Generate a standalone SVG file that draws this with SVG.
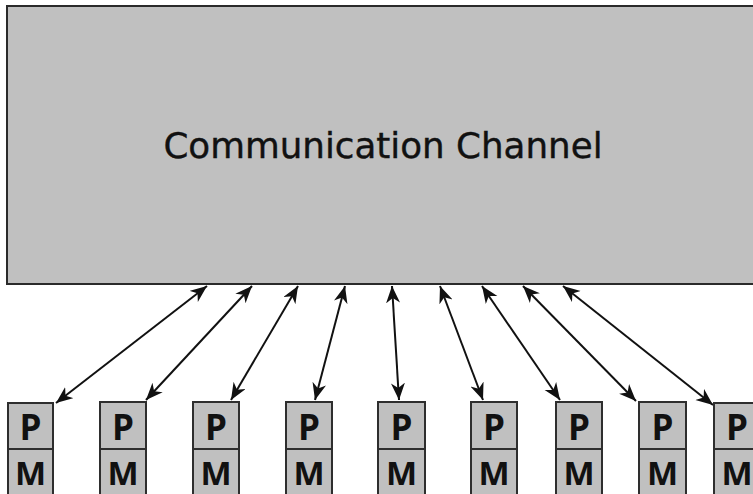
<svg xmlns="http://www.w3.org/2000/svg" width="753" height="494" viewBox="0 0 753 494">
<style>
.cell{fill:#c0c0c0;stroke:#2e2e2e;stroke-width:2}
.lbl{font-family:"Open Sans","Liberation Sans",sans-serif;font-weight:700;font-size:35px;fill:#111;text-anchor:middle}
.lm{font-size:33px}
.conn{stroke:#111;stroke-width:2;fill:none;marker-start:url(#ah);marker-end:url(#ah)}
.title{font-family:"DejaVu Sans","Liberation Sans",sans-serif;font-size:35.7px;fill:#111;stroke:#111;stroke-width:0.4;text-anchor:middle}
</style>
<defs>
<marker id="ah" markerUnits="userSpaceOnUse" markerWidth="18" markerHeight="15" refX="17" refY="7" orient="auto-start-reverse" viewBox="0 0 18 15">
<path d="M0,0 L17,7 L0,14 L5,7 z" fill="#111"/>
</marker>
</defs>
<rect width="753" height="494" fill="#fff"/>
<g id="channel">
<rect x="7" y="6" width="760" height="278" fill="#c0c0c0" stroke="#2a2a2a" stroke-width="2"/>
<text class="title" x="383" y="158">Communication Channel</text>
</g>
<g id="connectors">
<line class="conn" x1="207" y1="286" x2="56" y2="403"/>
<line class="conn" x1="252" y1="286" x2="146" y2="400"/>
<line class="conn" x1="298" y1="286" x2="231" y2="400"/>
<line class="conn" x1="345" y1="286" x2="315" y2="400"/>
<line class="conn" x1="392" y1="286" x2="399" y2="400"/>
<line class="conn" x1="440" y1="286" x2="483" y2="400"/>
<line class="conn" x1="482" y1="286" x2="560" y2="400"/>
<line class="conn" x1="523" y1="286" x2="636" y2="401"/>
<line class="conn" x1="563" y1="286" x2="713" y2="405"/>
</g>
<g id="pm1"><rect class="cell" x="8" y="403" width="45" height="46"/><rect class="cell" x="8" y="449" width="45" height="46"/><text class="lbl" x="30.5" y="440">P</text><text class="lbl lm" x="30.5" y="485">M</text></g>
<g id="pm2"><rect class="cell" x="100" y="402" width="46" height="47"/><rect class="cell" x="100" y="449" width="46" height="46"/><text class="lbl" x="123" y="440">P</text><text class="lbl lm" x="123" y="485">M</text></g>
<g id="pm3"><rect class="cell" x="193" y="402" width="46" height="47"/><rect class="cell" x="193" y="449" width="46" height="46"/><text class="lbl" x="216" y="440">P</text><text class="lbl lm" x="216" y="485">M</text></g>
<g id="pm4"><rect class="cell" x="286" y="402" width="46" height="47"/><rect class="cell" x="286" y="449" width="46" height="46"/><text class="lbl" x="309" y="440">P</text><text class="lbl lm" x="309" y="485">M</text></g>
<g id="pm5"><rect class="cell" x="378" y="402" width="47" height="47"/><rect class="cell" x="378" y="449" width="47" height="46"/><text class="lbl" x="401.5" y="440">P</text><text class="lbl lm" x="401.5" y="485">M</text></g>
<g id="pm6"><rect class="cell" x="471" y="402" width="46" height="47"/><rect class="cell" x="471" y="449" width="46" height="46"/><text class="lbl" x="494" y="440">P</text><text class="lbl lm" x="494" y="485">M</text></g>
<g id="pm7"><rect class="cell" x="556" y="402" width="46" height="47"/><rect class="cell" x="556" y="449" width="46" height="46"/><text class="lbl" x="579" y="440">P</text><text class="lbl lm" x="579" y="485">M</text></g>
<g id="pm8"><rect class="cell" x="639" y="402" width="47" height="47"/><rect class="cell" x="639" y="449" width="47" height="46"/><text class="lbl" x="662.5" y="440">P</text><text class="lbl lm" x="662.5" y="485">M</text></g>
<g id="pm9"><rect class="cell" x="714" y="403" width="46" height="46"/><rect class="cell" x="714" y="449" width="46" height="46"/><text class="lbl" x="737" y="440">P</text><text class="lbl lm" x="737" y="485">M</text></g>
</svg>
